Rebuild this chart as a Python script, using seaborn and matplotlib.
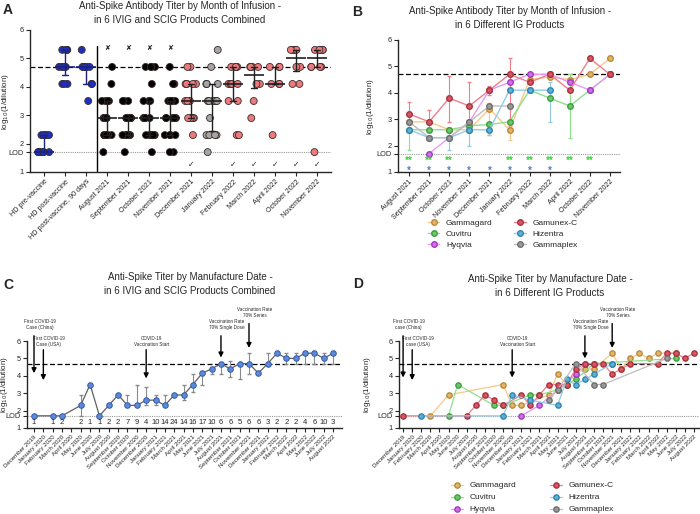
import numpy as np
import pandas as pd
import seaborn as sns
import matplotlib.pyplot as plt

# -------------------------------------------------------
# Data (log10 titers)
# -------------------------------------------------------
nan = np.nan

A_groups = ["HD pre-vaccine", "HD post-vaccine", "HD post-vaccine, 90 days",
            "August 2021", "September 2021", "October 2021", "November 2021",
            "December 2021", "January 2022", "February 2022", "March 2022",
            "April 2022", "October 2022", "November 2022"]
# (value, count) pairs per group
A_counts = [
    [(2.3, 5), (1.7, 7)],
    [(5.3, 4), (4.7, 4), (4.1, 3)],
    [(5.3, 1), (4.7, 5), (4.1, 2), (3.5, 1)],
    [(4.7, 1), (4.1, 1), (3.5, 4), (2.9, 7), (2.3, 5), (1.7, 1)],
    [(3.5, 3), (2.9, 7), (2.3, 6), (1.7, 1)],
    [(4.7, 4), (4.1, 1), (3.5, 3), (2.9, 7), (2.3, 7), (1.7, 1)],
    [(4.7, 1), (4.1, 2), (3.5, 5), (2.9, 6), (2.3, 4), (1.7, 2)],
    [(4.7, 2), (4.1, 5), (3.5, 3), (2.9, 4), (2.3, 1)],
    [(5.3, 1), (4.7, 1), (4.1, 4), (3.5, 6), (2.9, 1), (2.3, 4), (1.7, 1)],
    [(4.7, 5), (4.1, 4), (3.5, 2), (2.3, 2)],
    [(4.7, 4), (4.1, 2), (3.5, 1), (2.9, 1)],
    [(4.7, 3), (4.1, 3), (2.3, 1)],
    [(5.3, 4), (4.7, 2), (4.1, 2)],
    [(5.3, 5), (4.7, 4), (1.7, 1)],
]
A_cross = ["August 2021", "September 2021", "October 2021", "November 2021"]
A_check = ["December 2021", "February 2022", "March 2022", "April 2022",
           "October 2022", "November 2022"]

B_months = ["August 2021", "September 2021", "October 2021", "November 2021",
            "December 2021", "January 2022", "February 2022", "March 2022",
            "April 2022", "October 2022", "November 2022"]
products = ["Gammagard", "Cuvitru", "Hyqvia", "Gamunex-C", "Hizentra", "Gammaplex"]
B_values = {
    "Gammagard": [2.9, 2.9, 2.6, 2.6, 3.4, 2.6, 4.5, 4.6, 4.5, 4.7, 5.3],
    "Cuvitru":   [2.6, 2.6, 2.6, 2.75, 2.8, 2.9, 4.1, 3.8, 3.5, 4.1, 4.7],
    "Hyqvia":    [nan, 1.7, nan, 2.9, 4.1, 4.4, 4.7, 4.7, 4.4, 4.1, 4.7],
    "Gamunex-C": [3.2, 2.9, 3.8, 3.5, 4.1, 4.7, 4.4, 4.7, 4.1, 5.3, 4.7],
    "Hizentra":  [2.6, 2.3, 2.3, 2.6, 2.6, 4.1, 4.1, 4.1, nan, nan, nan],
    "Gammaplex": [2.9, 2.3, 2.3, 2.9, 3.5, 3.5, nan, nan, nan, nan, nan],
}
B_low = {
    "Gammagard": [nan, nan, nan, nan, 2.4, 2.2, nan, nan, 3.5, nan, nan],
    "Cuvitru":   [1.85, nan, nan, nan, nan, nan, nan, nan, 2.3, nan, nan],
    "Hyqvia":    [nan] * 11,
    "Gamunex-C": [2.9, 2.6, 2.9, 2.6, 3.9, 2.75, nan, nan, nan, nan, nan],
    "Hizentra":  [nan, nan, 1.85, 2.0, 2.4, nan, nan, 2.9, nan, nan, nan],
    "Gammaplex": [nan] * 11,
}
B_high = {
    "Gammagard": [nan, nan, nan, nan, 3.6, 2.9, nan, nan, 4.7, nan, nan],
    "Cuvitru":   [2.9, nan, nan, nan, nan, nan, nan, nan, 4.7, nan, nan],
    "Hyqvia":    [nan] * 11,
    "Gamunex-C": [3.65, 3.35, 4.65, 4.4, 4.25, 5.3, nan, nan, nan, nan, nan],
    "Hizentra":  [nan, nan, 2.6, 2.6, 2.6, nan, nan, 4.4, nan, nan, nan],
    "Gammaplex": [nan] * 11,
}
B_star2 = [0, 1, 2, 5, 6, 7, 8, 9]
B_star1 = [0, 1, 2, 3, 4, 5, 6, 7]

C_months = ["December 2019", "January 2020", "February 2020", "March 2020", "April 2020",
            "May 2020", "June 2020", "July 2020", "August 2020", "September 2020",
            "October 2020", "November 2020", "December 2020", "January 2021",
            "February 2021", "March 2021", "April 2021", "May 2021", "June 2021",
            "July 2021", "August 2021", "September 2021", "October 2021",
            "November 2021", "December 2021", "January 2022", "February 2022",
            "March 2022", "April 2022", "May 2022", "June 2022", "July 2022",
            "August 2022"]
C_values = [1.7, nan, 1.7, 1.7, nan, 2.3, 3.5, 1.7, 2.3, 2.9, 2.3, 2.3, 2.6, 2.6, 2.3,
            2.9, 2.9, 3.5, 4.15, 4.4, 4.7, 4.4, 4.7, 4.7, 4.15, 4.7, 5.3, 5.0, 5.0,
            5.3, 5.3, 5.0, 5.3]
C_low = [nan, nan, nan, nan, nan, 1.7, nan, nan, nan, nan, 2.3, 2.3, 2.3, 2.3, 2.3,
         nan, 2.6, 3.05, 3.5, 4.1, 4.1, 3.95, 3.8, 4.1, nan, 4.7, nan, 4.7, 4.7,
         4.7, 4.7, 4.7, 4.7]
C_high = [nan, nan, nan, nan, nan, 2.9, nan, nan, nan, nan, 2.9, 3.5, 3.35, 2.9, 2.9,
          nan, 3.5, 4.1, 4.15, 4.4, 4.7, 4.85, 4.7, 5.3, nan, 5.3, nan, 5.3, 5.3,
          5.3, 5.3, 5.3, 5.3]
C_n = ["1", "", "1", "2", "", "2", "1", "1", "2", "2", "7", "9", "4", "10", "14", "24",
       "14", "16", "17", "10", "6", "6", "5", "6", "6", "3", "2", "2", "2", "4", "6",
       "10", "3"]

D_values = {
    "Gammagard": [nan, nan, nan, 1.7, nan, 2.9, nan, nan, nan, nan, nan, 3.5, 2.3, 2.3,
                  nan, nan, 2.9, 4.1, 3.5, 4.1, 4.4, 4.4, nan, 5.3, 4.4, 5.0, 5.3, 5.0,
                  5.3, nan, 5.3, nan, nan],
    "Cuvitru":   [nan, nan, nan, nan, nan, 1.7, 3.5, nan, nan, nan, 2.3, 2.3, nan, nan,
                  2.9, 2.9, nan, 3.2, 3.5, 3.8, nan, 4.7, nan, nan, nan, nan, nan, nan,
                  nan, nan, 5.0, nan, nan],
    "Hyqvia":    [nan, nan, nan, nan, nan, nan, nan, nan, nan, nan, nan, nan, nan, 1.7,
                  nan, 2.3, nan, 3.2, nan, 4.1, 4.7, 4.7, nan, 4.7, nan, nan, nan, nan,
                  nan, nan, nan, nan, nan],
    "Gamunex-C": [1.7, nan, nan, nan, nan, nan, nan, 1.7, 2.3, 2.9, 2.6, 2.3, nan, 2.9,
                  2.3, 2.9, 3.5, 3.5, 3.5, 4.4, 4.7, 4.7, 4.7, 4.1, 4.4, 4.7, nan, nan,
                  4.7, 5.3, 5.3, 5.0, 5.3],
    "Hizentra":  [nan, nan, 1.7, nan, nan, nan, nan, nan, nan, nan, nan, 1.7, 2.9, nan,
                  2.6, nan, nan, 2.3, 3.8, 3.5, 3.8, 4.1, nan, 4.7, nan, nan, nan, nan,
                  nan, nan, nan, nan, nan],
    "Gammaplex": [nan, nan, nan, nan, nan, nan, nan, nan, nan, nan, nan, nan, nan, nan,
                  nan, nan, 2.6, 3.2, nan, 4.7, nan, 3.5, 3.5, nan, nan, nan, nan, nan,
                  nan, 5.0, nan, nan, nan],
}

# event arrows: (month index, text, text y, arrow top, arrow tip)
C_events = [
    (0, "First COVID-19\nCase (China)", 6.95, 6.3, 4.15),
    (1, "First COVID-19\nCase (USA)", 5.95, 5.5, 3.75),
    (12, "COVID-19\nVaccination Start", 5.95, 5.5, 3.85),
    (20, "Vaccination Rate\n70% Single Dose", 6.95, 6.3, 5.05),
    (23, "Vaccination Rate\n70% Series", 7.65, 7.0, 5.6),
]
D_events = [
    (0, "First COVID-19\ncase (China)", 6.95, 6.3, 3.9),
    (1, "First COVID-19\ncase (USA)", 5.95, 5.5, 3.75),
    (12, "COVID-19\nVaccination Start", 5.95, 5.5, 3.9),
    (20, "Vaccination Rate\n70% Single Dose", 6.95, 6.3, 5.0),
    (23, "Vaccination Rate\n70% Series", 7.65, 7.0, 5.6),
]

# -------------------------------------------------------
# Style
# -------------------------------------------------------
sns.set_style("ticks")
plt.rcParams["font.family"] = ["Liberation Sans", "DejaVu Sans"]

A_colors = {g: "#1c2fc0" for g in A_groups[:3]}
A_colors.update({g: "black" for g in A_groups[3:7]})
A_colors.update({g: "#ec7a7c" for g in A_groups[7:]})
A_colors["January 2022"] = "#a5a5a5"
A_bar = {g: ("#1a237e" if i < 3 else "#202020") for i, g in enumerate(A_groups)}

prod_edge = {"Gammagard": "#b98a3a", "Cuvitru": "#3f9e3f", "Hyqvia": "#a23ac4",
             "Gamunex-C": "#a8323e", "Hizentra": "#2f86ad", "Gammaplex": "#6f6f6f"}
prod_face = {"Gammagard": "#e3b56a", "Cuvitru": "#6cc66c", "Hyqvia": "#d070e8",
             "Gamunex-C": "#d65762", "Hizentra": "#5fb0d6", "Gammaplex": "#9a9a9a"}
prod_line = {"Gammagard": "#f6c98a", "Cuvitru": "#8fe08f", "Hyqvia": "#e79af5",
             "Gamunex-C": "#f07f8c", "Hizentra": "#92cbe9", "Gammaplex": "#bdbdbd"}

W, H = 700, 514
fig = plt.figure(figsize=(7, 5.14), dpi=100)


def px(x, y, w, h):
    return [x / W, 1 - (y + h) / H, w / W, h / H]


def style_axis(ax, labels, fs_x, label_x):
    ax.set_ylim(1, 6)
    ax.set_yticks([1, 1.7, 2, 3, 4, 5, 6])
    ax.set_yticklabels(["1", "LOD", "2", "3", "4", "5", "6"], fontsize=5.3)
    ax.set_xticks(range(len(labels)))
    ax.set_xticklabels(labels, rotation=45, ha="right", rotation_mode="anchor",
                       fontsize=fs_x)
    ax.tick_params(length=3, width=0.8, pad=1.5)
    for s in ["top", "right"]:
        ax.spines[s].set_visible(False)
    for s in ["left", "bottom"]:
        ax.spines[s].set_linewidth(1)
    ax.axhline(4.7, color="black", ls=(0, (4, 2)), lw=0.9, zorder=0)
    ax.axhline(1.7, color="#999999", ls=(0, (1, 1)), lw=0.8, zorder=0)
    ax.set_ylabel("log$_{10}$(1/dilution)", fontsize=5.8)
    ax.yaxis.set_label_coords(label_x, 0.5)
    ax.set_xlabel("")


# -------------------------------------------------------
# Panel A
# -------------------------------------------------------
axA = fig.add_axes(px(30, 30, 301, 142))
rows = []
for g, pairs in zip(A_groups, A_counts):
    for v, n in pairs:
        rows += [(g, v)] * n
dfA = pd.DataFrame(rows, columns=["group", "value"])

np.random.seed(3)
sns.stripplot(data=dfA, x="group", y="value", hue="group", order=A_groups,
              palette=A_colors, jitter=0.3, size=5, linewidth=0.6,
              edgecolor="#3a2a2a", legend=False, ax=axA, zorder=2)
sns.pointplot(data=dfA, x="group", y="value", hue="group", order=A_groups,
              palette=A_bar, estimator="median", errorbar=("pi", 50),
              marker="_", markersize=14, markeredgewidth=1.2, linestyle="none",
              capsize=0.25, err_kws={"linewidth": 1}, legend=False, ax=axA,
              zorder=3)
axA.set_xlim(-0.67, 13.67)
style_axis(axA, A_groups, 5.2, -0.062)
axA.axvline(2.5, ymin=0, ymax=(5.45 - 1) / 5, color="black", lw=1)
for g in A_cross:
    axA.text(A_groups.index(g), 5.35, "✘", ha="center", va="center", fontsize=5)
for g in A_check:
    axA.text(A_groups.index(g), 1.22, "✓", ha="center", va="center", fontsize=5.5)

# -------------------------------------------------------
# Panel B
# -------------------------------------------------------
axB = fig.add_axes(px(398, 40, 222, 132))
for p in products:
    d = pd.DataFrame({"x": range(len(B_months)), "y": B_values[p]}).dropna()
    sns.lineplot(data=d, x="x", y="y", color=prod_line[p], lw=1, marker="o",
                 markersize=4, markerfacecolor=prod_face[p],
                 markeredgecolor=prod_edge[p], markeredgewidth=1, label=p,
                 ax=axB, zorder=3)
    v = np.array(B_values[p])
    lo, hi = np.array(B_low[p]), np.array(B_high[p])
    ok = ~np.isnan(lo)
    axB.errorbar(np.arange(len(v))[ok], v[ok], yerr=[v[ok] - lo[ok], hi[ok] - v[ok]],
                 fmt="none", ecolor=prod_line[p], elinewidth=0.8, capsize=1.5,
                 zorder=2)
axB.set_xlim(-0.55, 10.5)
style_axis(axB, B_months, 5.2, -0.1)
for i in B_star2:
    axB.text(i, 1.42, "**", color="#3ccf3c", ha="center", va="center", fontsize=7,
             fontweight="bold")
for i in B_star1:
    axB.text(i, 1.05, "*", color="#4a7fd0", ha="center", va="center", fontsize=7,
             fontweight="bold")
axB.legend(loc="upper left", bbox_to_anchor=(0.1, -0.3), ncol=2, frameon=False,
           fontsize=6, handlelength=1.4, columnspacing=2.6, labelspacing=0.4)

# -------------------------------------------------------
# Panel C
# -------------------------------------------------------
axC = fig.add_axes(px(27, 341, 315, 87))
dC = pd.DataFrame({"x": range(len(C_months)), "y": C_values}).dropna()
v, lo, hi = np.array(C_values), np.array(C_low), np.array(C_high)
ok = ~np.isnan(lo)
axC.errorbar(np.arange(len(v))[ok], v[ok], yerr=[v[ok] - lo[ok], hi[ok] - v[ok]],
             fmt="none", ecolor="#8a8a8a", elinewidth=0.8, capsize=1.5, zorder=2)
sns.lineplot(data=dC, x="x", y="y", color="#606060", lw=0.9, marker="o",
             markersize=4, markerfacecolor="#5b8ad8", markeredgecolor="#3559a8",
             markeredgewidth=0.7, ax=axC, zorder=3)
axC.set_xlim(-0.75, 32.95)
style_axis(axC, C_months, 4.4, -0.055)
for i, n in enumerate(C_n):
    axC.text(i, 1.3, n, ha="center", va="center", fontsize=5.5)

# -------------------------------------------------------
# Panel D
# -------------------------------------------------------
axD = fig.add_axes(px(399, 341, 300, 87))
for p in products:
    d = pd.DataFrame({"x": range(len(C_months)), "y": D_values[p]}).dropna()
    sns.lineplot(data=d, x="x", y="y", color=prod_line[p], lw=0.9, marker="o",
                 markersize=3.8, markerfacecolor=prod_face[p],
                 markeredgecolor=prod_edge[p], markeredgewidth=1, label=p,
                 ax=axD, zorder=3)
axD.set_xlim(-0.45, 32.55)
style_axis(axD, C_months, 4.4, -0.085)
axD.legend(loc="upper left", bbox_to_anchor=(0.15, -0.53), ncol=2, frameon=False,
           fontsize=6, handlelength=1.4, columnspacing=4.0, labelspacing=0.5)

for ax, events in [(axC, C_events), (axD, D_events)]:
    for i, txt, ty, top, tip in events:
        ax.annotate("", xy=(i, tip), xytext=(i, top), annotation_clip=False,
                    arrowprops=dict(arrowstyle="-|>", color="black", lw=1,
                                    mutation_scale=7, shrinkA=0, shrinkB=0))
        ax.text(i + 0.6, ty, txt, ha="center", va="center", fontsize=3.3,
                linespacing=1.2, clip_on=False)

# -------------------------------------------------------
# Titles and panel letters
# -------------------------------------------------------
titles = [(180, 13, "Anti-Spike Antibody Titer by Month of Infusion -\nin 6 IVIG and SCIG Products Combined"),
          (510, 18, "Anti-Spike Antibody Titer by Month of Infusion -\nin 6 Different IG Products"),
          (190, 284, "Anti-Spike Titer by Manufacture Date -\nin 6 IVIG and SCIG Products Combined"),
          (550, 286, "Anti-Spike Titer by Manufacture Date -\nin 6 Different IG Products")]
for x, y, t in titles:
    fig.text(x / W, 1 - y / H, t, ha="center", va="center", fontsize=7.0,
             linespacing=1.5)
for x, y, t in [(8, 10, "A"), (357, 12, "B"), (8, 285, "C"), (358, 284, "D")]:
    fig.text(x / W, 1 - y / H, t, ha="center", va="center", fontsize=10,
             fontweight="bold")

plt.savefig("out.png", dpi=100)
